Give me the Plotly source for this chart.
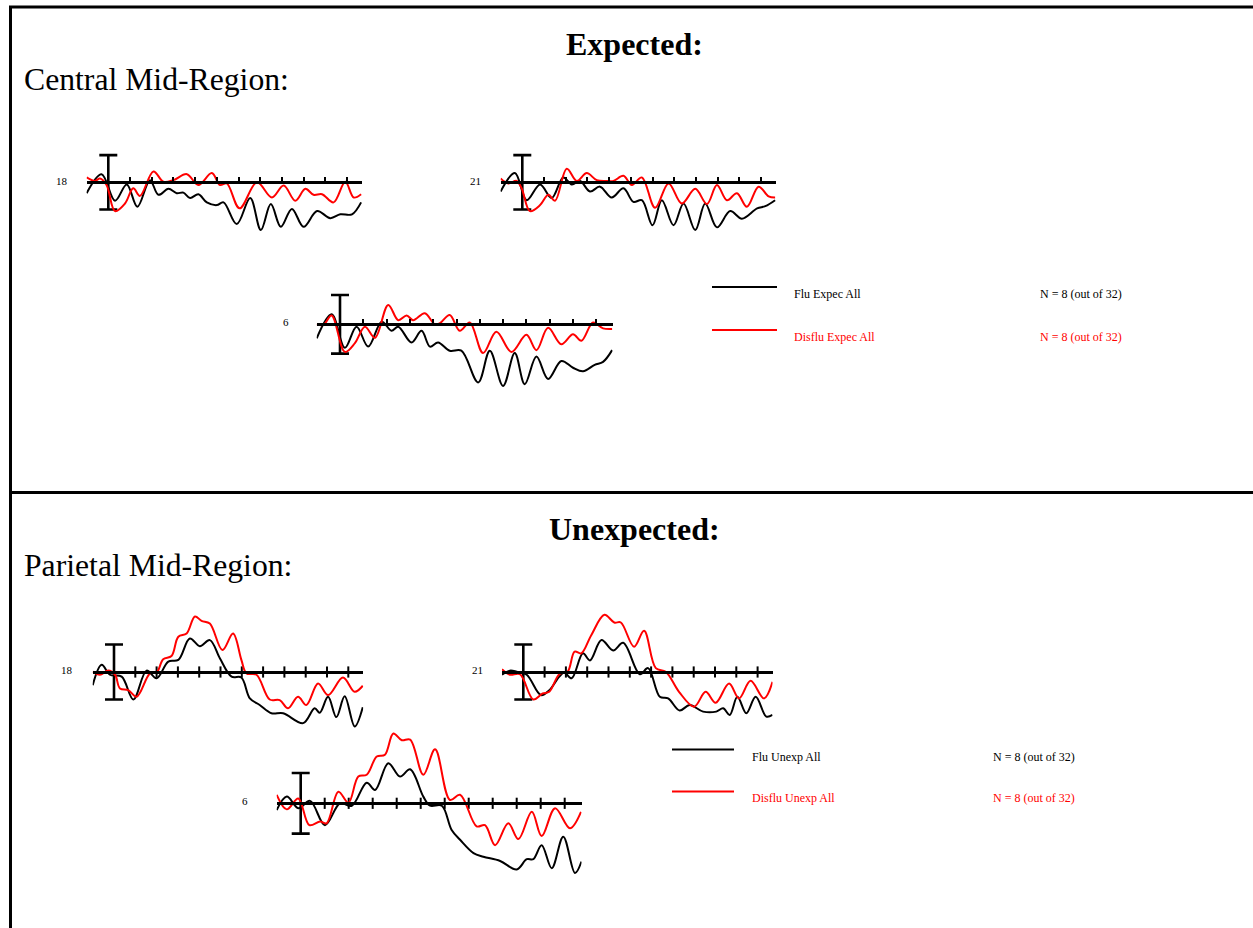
import plotly.graph_objects as go

W, H = 1253, 928
SERIF = "Liberation Serif"
RED = "#ff0000"

# ---------------- data ----------------
TICKS_MS = [0, 100, 200, 300, 400, 500, 600, 700, 800, 900, 1000, 1100]
T_RANGE = [-100, 1170]
SCALE_UV = 5

# Expected, electrode 18
exp18_flu_t = [-100, -31, 31, 85, 134, 192, 231, 277, 315, 346, 377, 415, 454, 500, 531, 592, 654, 703, 749, 795, 846, 900, 962, 1023, 1069, 1123, 1165]
exp18_flu_v = [-2.0, 1.5, -3.4, -0.4, -4.5, 0.4, -2.3, -1.2, -2.0, -1.9, -2.9, -2.2, -3.7, -4.2, -3.7, -7.7, -2.9, -8.8, -4.0, -8.2, -4.9, -8.2, -5.3, -6.6, -5.9, -5.9, -3.7]
exp18_dis_t = [-100, -62, -38, -8, 31, 77, 115, 146, 208, 254, 300, 362, 415, 477, 515, 546, 605, 685, 754, 808, 862, 908, 946, 985, 1038, 1092, 1131, 1165]
exp18_dis_v = [0.9, 0.25, 0.7, -0.5, -5.3, -3.9, -1.1, -2.5, 2.0, 0.1, 0.4, 1.5, -0.5, 1.7, -0.5, -0.2, -4.8, 0.0, -2.8, -0.6, -3.4, -1.2, -2.3, -2.2, -3.7, 0.1, -2.8, -2.2]

# Expected, electrode 21
exp21_flu_t = [-100, -34, 20, 82, 135, 189, 228, 266, 312, 358, 412, 466, 512, 551, 600, 643, 697, 743, 797, 843, 897, 958, 1012, 1082, 1120, 1165]
exp21_flu_v = [-1.7, 1.7, -3.3, -0.4, -2.9, 0.9, -0.4, 0.25, -1.7, -0.8, -2.8, -1.1, -3.6, -3.3, -7.9, -3.3, -7.9, -3.9, -8.8, -3.9, -8.3, -5.3, -6.7, -4.8, -4.4, -3.3]
exp21_dis_t = [-100, -65, -26, -3, 35, 82, 120, 151, 205, 251, 297, 343, 389, 420, 466, 505, 551, 612, 674, 735, 797, 851, 897, 943, 989, 1035, 1089, 1135, 1165]
exp21_dis_v = [0.7, -0.2, 0.25, -1.1, -5.3, -4.2, -2.3, -3.4, 2.5, 0.25, 1.7, 0.4, 0.25, 0.25, 1.2, -0.5, 0.9, -4.7, -0.2, -3.9, -1.2, -4.0, -0.5, -3.3, -2.0, -4.5, -0.8, -2.6, -2.8]

# Expected, electrode 6
exp6_flu_t = [-100, -36, 21, 71, 121, 179, 221, 250, 307, 350, 386, 421, 471, 521, 593, 643, 700, 750, 793, 843, 893, 950, 1000, 1043, 1093, 1129, 1168]
exp6_flu_v = [-2.4, 1.7, -4.0, -0.4, -3.8, 0.45, -1.1, -0.4, -3.1, -1.1, -3.8, -3.1, -4.5, -4.5, -9.9, -4.5, -10.5, -4.9, -10.2, -5.5, -9.3, -6.25, -7.4, -8.0, -6.9, -6.4, -4.4]
exp6_dis_t = [-100, -71, -36, 21, 64, 107, 150, 207, 250, 286, 314, 364, 407, 429, 471, 514, 557, 614, 671, 736, 800, 843, 893, 950, 1000, 1036, 1086, 1129, 1168]
exp6_dis_v = [0.0, -0.1, 1.5, -4.7, -3.2, -0.4, -2.3, 3.3, 0.7, 1.5, 0.7, 1.9, 0.0, 0.2, 1.6, -1.1, 0.3, -4.9, -1.25, -4.7, -1.8, -4.4, -0.6, -3.4, -1.7, -2.8, 0.3, -0.7, -0.8]

# Unexpected, electrode 18
unx18_flu_t = [-100, -58, -19, 36, 91, 153, 200, 255, 302, 356, 403, 450, 497, 552, 598, 638, 684, 739, 794, 888, 942, 966, 1005, 1044, 1083, 1130, 1168]
unx18_flu_v = [-2.4, 1.3, -0.5, -0.85, -5.0, 0.25, -1.15, 1.9, 2.2, 6.1, 4.7, 5.8, 2.5, -0.85, -1.0, -4.8, -6.0, -7.5, -7.5, -9.3, -6.6, -7.4, -4.5, -8.2, -4.4, -9.9, -6.4]
unx18_dis_t = [-100, -66, -27, 5, 28, 67, 106, 169, 200, 231, 270, 302, 341, 380, 411, 450, 509, 559, 598, 622, 669, 731, 778, 817, 864, 903, 958, 1005, 1075, 1130, 1168]
unx18_dis_v = [0.06, -0.5, 0.25, -0.5, -3.0, -3.3, -4.5, -0.25, -0.1, 2.3, 2.9, 6.4, 7.0, 10.1, 9.3, 8.8, 4.0, 7.0, 2.2, -0.25, -0.5, -5.0, -5.1, -6.6, -4.5, -6.0, -2.1, -4.2, -1.0, -3.6, -2.5]

# Unexpected, electrode 21
unx21_flu_t = [-100, -63, -31, 16, 83, 122, 169, 192, 227, 280, 313, 367, 422, 469, 547, 586, 641, 680, 734, 781, 844, 906, 938, 969, 1005, 1047, 1091, 1141, 1170]
unx21_flu_v = [-0.5, 0.25, 0.06, -0.5, -4.2, -3.3, -0.85, -0.1, -1.15, 3.4, 2.1, 5.8, 3.9, 5.3, -0.4, 0.7, -4.5, -4.8, -7.0, -6.0, -7.2, -7.2, -6.6, -7.8, -4.5, -7.5, -4.5, -8.1, -7.8]
unx21_dis_t = [-100, -63, -16, 47, 91, 122, 169, 208, 241, 272, 319, 381, 427, 458, 520, 567, 622, 669, 731, 802, 856, 903, 966, 1013, 1067, 1130, 1170]
unx21_dis_v = [0.5, -0.5, -0.4, -5.0, -3.9, -3.6, -0.4, 0.06, 3.7, 3.4, 6.7, 10.4, 9.0, 9.0, 4.6, 7.5, 0.7, 0.06, -3.6, -6.3, -3.6, -5.6, -2.1, -4.8, -1.6, -4.8, -1.8]

# Unexpected, electrode 6
unx6_flu_t = [-100, -58, -10, 39, 101, 164, 213, 275, 310, 365, 414, 456, 511, 539, 588, 629, 664, 720, 761, 831, 900, 942, 969, 1004, 1046, 1094, 1143, 1170]
unx6_flu_v = [-1.1, 1.1, -0.8, 0.4, -3.6, 0.0, -0.4, 3.4, 2.2, 6.6, 4.4, 5.6, 1.1, -0.4, -0.4, -4.4, -6.0, -8.2, -8.8, -9.5, -10.9, -9.2, -9.2, -6.9, -10.7, -5.5, -11.5, -9.6]
unx6_dis_t = [-100, -58, -10, 36, 81, 108, 157, 199, 240, 275, 317, 351, 386, 421, 456, 511, 560, 622, 664, 733, 768, 810, 865, 907, 963, 1004, 1060, 1122, 1168]
unx6_dis_v = [1.4, -1.0, 0.8, -3.6, -3.0, -3.3, 1.9, 0.1, 4.4, 4.7, 7.7, 8.0, 11.5, 10.4, 10.5, 4.7, 8.9, 0.55, 1.4, -3.8, -3.6, -6.9, -3.3, -5.9, -1.4, -5.4, -0.8, -4.1, -1.4]

# ---------------- layout of panels (pixel geometry) ----------------
# x0: pixel of t=0, s: px per ms, base: pixel y of 0 uV, unit: px per uV
panels = [
    dict(lab="18", flu=(exp18_flu_t, exp18_flu_v), dis=(exp18_dis_t, exp18_dis_v),
         x0=108.3, s=0.217, base=182.3, unit=5.43, tick="up", lx=62, ly=181),
    dict(lab="21", flu=(exp21_flu_t, exp21_flu_v), dis=(exp21_dis_t, exp21_dis_v),
         x0=522.3, s=0.217, base=182.3, unit=5.43, tick="up", lx=475, ly=181),
    dict(lab="6", flu=(exp6_flu_t, exp6_flu_v), dis=(exp6_dis_t, exp6_dis_v),
         x0=340.0, s=0.233, base=324.3, unit=5.87, tick="up", lx=286, ly=322),
    dict(lab="18", flu=(unx18_flu_t, unx18_flu_v), dis=(unx18_dis_t, unx18_dis_v),
         x0=114.0, s=0.213, base=672.0, unit=5.5, tick="cross", lx=67, ly=670),
    dict(lab="21", flu=(unx21_flu_t, unx21_flu_v), dis=(unx21_dis_t, unx21_dis_v),
         x0=523.3, s=0.213, base=672.0, unit=5.5, tick="cross", lx=477, ly=670),
    dict(lab="6", flu=(unx6_flu_t, unx6_flu_v), dis=(unx6_dis_t, unx6_dis_v),
         x0=300.7, s=0.240, base=803.3, unit=6.07, tick="cross", lx=245, ly=801),
]
YR = 13

fig = go.Figure()
layout_axes = {}
annotations = []

for i, p in enumerate(panels, start=1):
    xa = "x" if i == 1 else f"x{i}"
    ya = "y" if i == 1 else f"y{i}"
    xl = p["x0"] + T_RANGE[0] * p["s"]
    xr = p["x0"] + T_RANGE[1] * p["s"]
    yt = p["base"] - YR * p["unit"]
    yb = p["base"] + YR * p["unit"]
    pos = 1 - p["base"] / H
    xaxis = dict(
        domain=[xl / W, xr / W], range=T_RANGE, anchor="free", position=pos,
        side="top", showline=True, linecolor="black", linewidth=2.6,
        showgrid=False, zeroline=False, showticklabels=False,
        tickvals=TICKS_MS, fixedrange=True,
    )
    if p["tick"] == "up":
        xaxis.update(ticks="outside", ticklen=5, tickwidth=2, tickcolor="black")
    else:
        xaxis.update(ticks="")
    layout_axes["xaxis" if i == 1 else f"xaxis{i}"] = xaxis
    layout_axes["yaxis" if i == 1 else f"yaxis{i}"] = dict(
        domain=[1 - yb / H, 1 - yt / H], range=[-YR, YR], anchor=xa,
        visible=False, fixedrange=True,
    )

    if p["tick"] == "cross":
        fig.add_trace(go.Scatter(
            x=TICKS_MS[1:], y=[0] * (len(TICKS_MS) - 1), mode="markers",
            marker=dict(symbol="line-ns-open", size=8, color="black",
                        line=dict(width=2, color="black")),
            xaxis=xa, yaxis=ya, showlegend=False, hoverinfo="skip", cliponaxis=False))

    # scale bar at stimulus onset
    fig.add_trace(go.Scatter(
        x=[0], y=[0], mode="markers", marker=dict(size=1, color="rgba(0,0,0,0)"),
        error_y=dict(type="data", array=[SCALE_UV], symmetric=True, color="black",
                     thickness=2.6, width=9),
        xaxis=xa, yaxis=ya, showlegend=False, hoverinfo="skip", cliponaxis=False))

    fig.add_trace(go.Scatter(
        x=p["flu"][0], y=p["flu"][1], mode="lines",
        line=dict(color="black", width=2, shape="spline", smoothing=1.0),
        xaxis=xa, yaxis=ya, showlegend=False, hoverinfo="skip", cliponaxis=False))
    fig.add_trace(go.Scatter(
        x=p["dis"][0], y=p["dis"][1], mode="lines",
        line=dict(color=RED, width=2, shape="spline", smoothing=1.0),
        xaxis=xa, yaxis=ya, showlegend=False, hoverinfo="skip", cliponaxis=False))

    annotations.append(dict(
        text=p["lab"], x=p["lx"] / W, y=1 - p["ly"] / H, xref="paper", yref="paper",
        xanchor="center", yanchor="middle", showarrow=False,
        font=dict(family=SERIF, size=11, color="black")))


def pxa(text, x, y, size, color="black", xanchor="left"):
    return dict(text=text, x=x / W, y=1 - y / H, xref="paper", yref="paper",
                xanchor=xanchor, yanchor="middle", showarrow=False,
                font=dict(family=SERIF, size=size, color=color))


annotations += [
    pxa("<b>Expected:</b>", 635, 44, 32, xanchor="center"),
    pxa("Central Mid-Region:", 22, 79, 31.7),
    pxa("<b>Unexpected:</b>", 635, 529, 32, xanchor="center"),
    pxa("Parietal Mid-Region:", 22, 565, 31.7),
    pxa("Flu Expec All", 792, 294, 12),
    pxa("Disflu Expec All", 792, 337, 12, RED),
    pxa("N = 8 (out of 32)", 1038, 294, 12),
    pxa("N = 8 (out of 32)", 1038, 337, 12, RED),
    pxa("Flu Unexp All", 750, 757, 12),
    pxa("Disflu Unexp All", 750, 798, 12, RED),
    pxa("N = 8 (out of 32)", 991, 757, 12),
    pxa("N = 8 (out of 32)", 991, 798, 12, RED),
]


def line_shape(x0, y0, x1, y1, width, color="black"):
    return dict(type="line", xref="paper", yref="paper",
                x0=x0 / W, y0=1 - y0 / H, x1=x1 / W, y1=1 - y1 / H,
                line=dict(color=color, width=width))


shapes = [
    line_shape(9, 7, 1253, 7, 3),
    line_shape(10.5, 6, 10.5, 928, 3),
    line_shape(9, 492.5, 1253, 492.5, 3),
    line_shape(712, 287, 777, 287, 1.8),
    line_shape(712, 330, 777, 330, 1.8, RED),
    line_shape(672, 749.5, 734, 749.5, 1.8),
    line_shape(672, 791.5, 734, 791.5, 1.8, RED),
]

fig.update_layout(
    width=W, height=H, margin=dict(l=0, r=0, t=0, b=0),
    paper_bgcolor="white", plot_bgcolor="rgba(0,0,0,0)",
    showlegend=False, annotations=annotations, shapes=shapes,
    **layout_axes,
)

fig.write_html("out.html", config={"displayModeBar": False},
               post_script="document.body.style.margin='0';document.body.style.overflow='hidden';")
